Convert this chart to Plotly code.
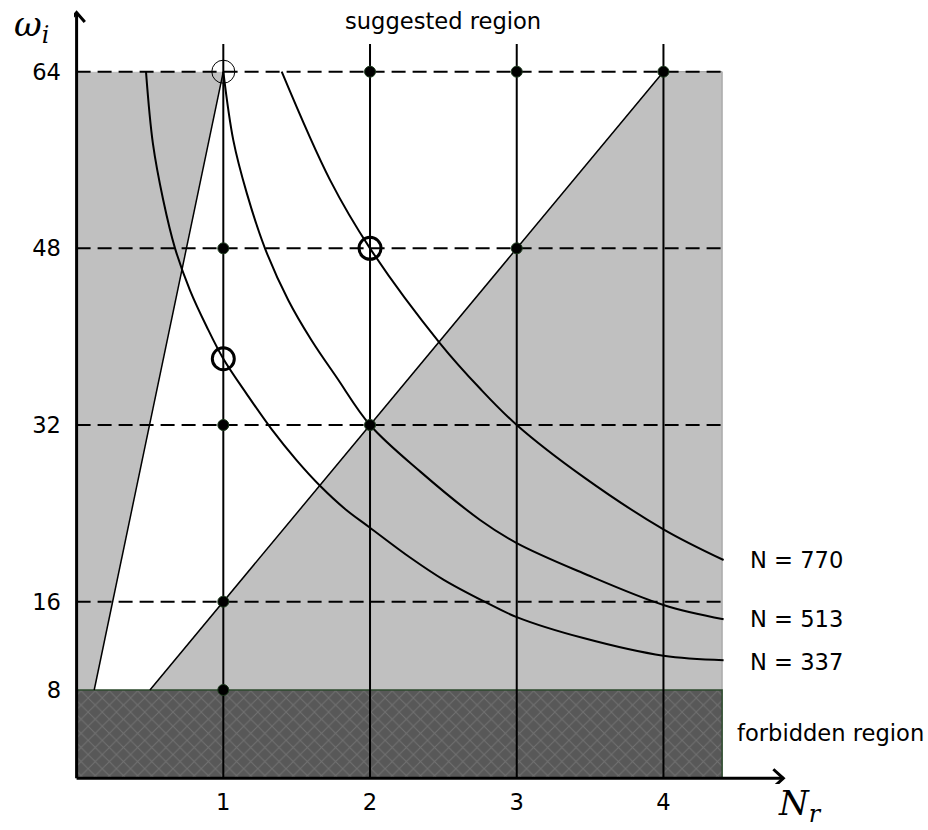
import plotly.graph_objects as go

# ---------------- data ----------------
nr_ticks = [1, 2, 3, 4]
w_ticks = [8, 16, 32, 48, 64]
w_dashed = [16, 32, 48, 64]
x_max = 4.4
w_top = 64
w_vert_top = 66.5
w_forbidden = 8

# left grey wedge boundary (bottom point, top point)
wedge_nr = [0.12, 1.0]
wedge_w = [8, 64]
# right grey region boundary: omega = 16 * Nr
diag_nr = [0.5, 4.0]
diag_w = [8, 64]

# constant-N curves
n337_nr = [0.473, 0.52, 0.59, 0.671, 0.773, 0.887, 1.0, 1.16, 1.33, 1.5, 1.659, 1.83, 2.0, 2.273, 2.5, 2.78, 3.0, 3.454, 4.0, 4.41]
n337_w = [64, 57.5, 52.4, 48.0, 44.2, 40.9, 38.0, 34.8, 31.6, 28.8, 26.5, 24.4, 22.7, 20.0, 18.0, 16.0, 14.6, 12.7, 11.1, 10.7]

n513_nr = [1.0, 1.068, 1.16, 1.284, 1.443, 1.6, 1.773, 2.0, 2.341, 2.75, 3.0, 3.454, 4.0, 4.41]
n513_w = [64, 57.8, 53.0, 48.0, 43.3, 39.7, 36.3, 32.0, 27.8, 23.4, 21.3, 18.57, 15.7, 14.4]

n770_nr = [1.398, 1.727, 2.0, 2.477, 2.75, 3.0, 3.454, 4.0, 4.41]
n770_w = [64, 54.2, 48.0, 39.4, 35.3, 32.0, 27.3, 22.55, 19.77]

curve_labels = ["N = 770", "N = 513", "N = 337"]
curve_label_w = [19.77, 14.43, 10.5]

dots_nr = [2, 3, 4, 1, 3, 1, 2, 1, 1]
dots_w = [64, 64, 64, 48, 48, 32, 32, 16, 8]
open_nr = [2, 1]
open_w = [48, 38]
thin_nr = [1]
thin_w = [64]

# ---------------- figure ----------------
fig = go.Figure()
GREY = "#c0c0c0"

# left wedge
fig.add_trace(go.Scatter(
    x=[0, 0, wedge_nr[1], wedge_nr[0]], y=[w_forbidden, w_top, wedge_w[1], wedge_w[0]],
    fill="toself", fillcolor=GREY, mode="none", hoverinfo="skip"))
# right region
fig.add_trace(go.Scatter(
    x=[diag_nr[0], diag_nr[1], x_max, x_max], y=[diag_w[0], diag_w[1], w_top, w_forbidden],
    fill="toself", fillcolor=GREY, mode="lines", line=dict(color="#9a9a9a", width=1),
    hoverinfo="skip"))
# forbidden region
fig.add_trace(go.Scatter(
    x=[0, 0, x_max, x_max], y=[0, w_forbidden, w_forbidden, 0],
    fill="toself", fillcolor="#5a5a5a", mode="none", hoverinfo="skip",
    fillpattern=dict(shape="x", bgcolor="#585858", fgcolor="#8a8a8a", size=10, solidity=0.18)))
fig.add_trace(go.Scatter(
    x=[0, x_max, x_max], y=[w_forbidden, w_forbidden, 0], mode="lines",
    line=dict(color="#2c4a2c", width=1.5), hoverinfo="skip"))

# boundary lines
fig.add_trace(go.Scatter(x=wedge_nr, y=wedge_w, mode="lines",
                         line=dict(color="black", width=1.5), hoverinfo="skip"))
fig.add_trace(go.Scatter(x=diag_nr, y=diag_w, mode="lines",
                         line=dict(color="black", width=1.5), hoverinfo="skip"))

# dashed horizontal lines
for w in w_dashed:
    fig.add_trace(go.Scatter(x=[0, x_max], y=[w, w], mode="lines",
                             line=dict(color="black", width=2, dash="14px,7px"),
                             hoverinfo="skip"))
# vertical lines
for n in nr_ticks:
    fig.add_trace(go.Scatter(x=[n, n], y=[0, w_vert_top], mode="lines",
                             line=dict(color="black", width=2), hoverinfo="skip"))

# constant-N curves
for xs, ys in [(n337_nr, n337_w), (n513_nr, n513_w), (n770_nr, n770_w)]:
    fig.add_trace(go.Scatter(x=xs, y=ys, mode="lines",
                             line=dict(color="black", width=2, shape="spline", smoothing=1.0),
                             hoverinfo="skip"))

# markers
fig.add_trace(go.Scatter(x=dots_nr, y=dots_w, mode="markers",
                         marker=dict(size=11, color="black", line=dict(color="#1d3a1d", width=1))))
fig.add_trace(go.Scatter(x=open_nr, y=open_w, mode="markers",
                         marker=dict(size=22, symbol="circle-open", color="black",
                                     line=dict(color="black", width=3))))
fig.add_trace(go.Scatter(x=thin_nr, y=thin_w, mode="markers",
                         marker=dict(size=23, symbol="circle-open", color="black",
                                     line=dict(color="black", width=1))))

# axes with arrows
x_tip = 4.817
y_tip = 69.35
shapes = [
    dict(type="line", xref="x", yref="y", x0=0, y0=0, x1=x_tip, y1=0,
         line=dict(color="black", width=3)),
    dict(type="line", xref="x", yref="y", x0=0, y0=0, x1=0, y1=y_tip,
         line=dict(color="black", width=3)),
    dict(type="path", xref="x", yref="y",
         path=f"M {x_tip-0.068},0.82 L {x_tip},0 L {x_tip-0.068},-0.82",
         line=dict(color="black", width=3)),
    dict(type="path", xref="x", yref="y",
         path=f"M -0.056,{y_tip-0.85} L 0,{y_tip} L 0.056,{y_tip-0.85}",
         line=dict(color="black", width=3)),
]

FONT = "DejaVu Sans"
FS = 22.6
MATH = dict(family="DejaVu Serif", size=34, color="black")
annotations = [
    dict(x=2.5, y=68.6, xref="x", yref="y", text="suggested region", showarrow=False,
         font=dict(family=FONT, size=FS, color="black")),
    dict(x=4.488, y=4.1, xref="x", yref="y", text="forbidden region", showarrow=False,
         xanchor="left", font=dict(family=FONT, size=FS, color="black")),
    dict(x=-0.058, y=0.973, xref="paper", yref="paper", text="<i>ω<sub>i</sub></i>",
         xanchor="center", yanchor="middle", showarrow=False, font=MATH),
    dict(x=0.995, y=-0.027, xref="paper", yref="paper", text="<i>N<sub>r</sub></i>",
         xanchor="center", yanchor="middle", showarrow=False, font=MATH),
]
for lbl, w in zip(curve_labels, curve_label_w):
    annotations.append(dict(x=4.577, y=w, xref="x", yref="y", text=lbl, showarrow=False,
                            xanchor="left", font=dict(family=FONT, size=FS, color="black")))

fig.update_layout(
    width=928, height=830, autosize=False,
    margin=dict(l=74, r=124, t=5, b=46),
    plot_bgcolor="white", paper_bgcolor="white",
    showlegend=False,
    shapes=shapes, annotations=annotations,
    xaxis=dict(range=[-0.0177, 4.958], tickvals=nr_ticks, showgrid=False, zeroline=False,
               showline=False, ticks="", tickfont=dict(family=FONT, size=FS, color="black"),
               ticklabelstandoff=2),
    yaxis=dict(range=[-0.516, 70.04], tickvals=w_ticks, showgrid=False, zeroline=False,
               showline=False, ticks="", tickfont=dict(family=FONT, size=FS, color="black"),
               ticklabelstandoff=12),
)

fig.write_html("out.html")
